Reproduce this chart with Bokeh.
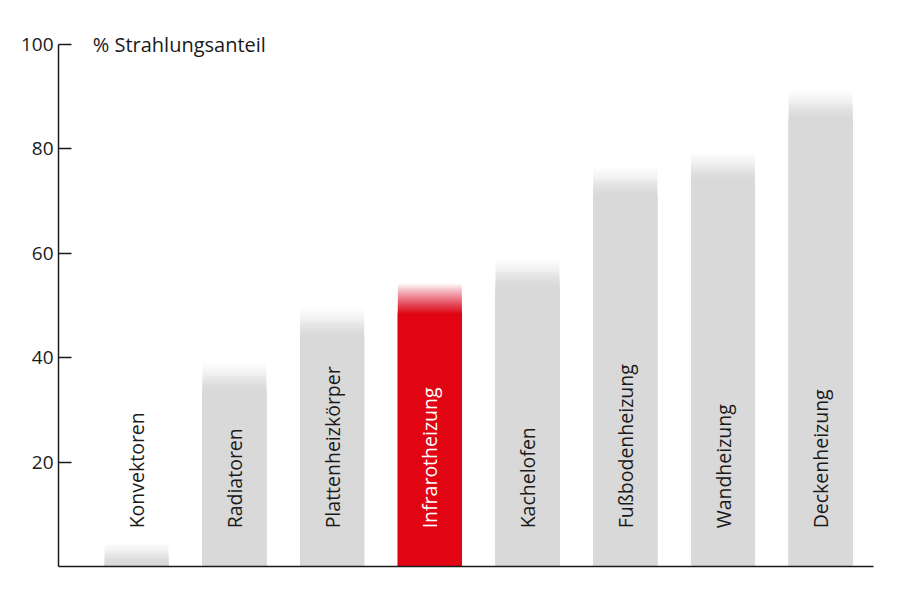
import numpy as np
from bokeh.plotting import figure
from bokeh.models import ColumnDataSource, FixedTicker, Range1d
from bokeh.core.properties import value
from bokeh.embed import file_html
from bokeh.resources import INLINE

categories = ["Konvektoren", "Radiatoren", "Plattenheizkörper", "Infrarotheizung",
              "Kachelofen", "Fußbodenheizung", "Wandheizung", "Deckenheizung"]
values = [4.6, 39.0, 49.4, 54.2, 58.9, 76.4, 79.2, 91.1]
highlight = "Infrarotheizung"
y_ticks = [20, 40, 60, 80, 100]
y_title = "% Strahlungsanteil"

GRAY = "#d9d9d9"
RED = "#e10514"
FONT = "Open Sans"
FADE = 6.0      # height of the fading top, data units
STEPS = 40
BAR_W = 0.655
LABEL_Y = 7.3

xs = list(range(len(categories)))
colors = [RED if c == highlight else GRAY for c in categories]
text_colors = ["#ffffff" if c == highlight else "#1a1a1a" for c in categories]

p = figure(width=884, height=584, output_backend="svg", toolbar_location=None,
           x_range=Range1d(-0.8, 7.54), y_range=Range1d(0, 106.03),
           min_border_left=58, min_border_right=11, min_border_top=12, min_border_bottom=18)
p.outline_line_color = None
p.grid.visible = False
p.background_fill_color = "white"

# each bar = stacked translucent layers from the baseline; the shortest layer is
# opaque, taller ones get alpha 1/(n) so the top fades out linearly
fx, ft, fc, fa = [], [], [], []
for x, v, c in zip(xs, values, colors):
    start = max(v - FADE, 0)
    h = (v - start) / STEPS
    for m in range(1, STEPS + 1):          # m = 1 is the tallest layer
        fx.append(x)
        ft.append(v - (m - 1) * h)
        fc.append(c)
        fa.append(1.0 / (STEPS - m + 1))
order = np.argsort(ft)[::-1]               # draw tallest first
fx = [fx[i] for i in order]
ft = [ft[i] for i in order]
fc = [fc[i] for i in order]
fa = [fa[i] for i in order]
p.vbar(x=fx, bottom=0, top=ft, width=BAR_W, fill_color=fc, fill_alpha=fa, line_color=None)

# labels inside bars
src = ColumnDataSource(dict(x=xs, y=[LABEL_Y] * len(xs), t=categories, c=text_colors))
p.text(x="x", y="y", text="t", source=src, angle=np.pi / 2, text_align="left",
       text_baseline="middle", text_color="c", text_font=value(FONT), text_font_size="19.5px")

# title at top of axis
p.text(x=[-0.8 + 0.35], y=[100], text=[y_title], text_align="left", text_baseline="middle",
       text_color="#1a1a1a", text_font=value(FONT), text_font_size="20px")

# axes
p.yaxis.ticker = FixedTicker(ticks=y_ticks)
p.yaxis.bounds = (0, 100)
p.yaxis.major_tick_in = 13
p.yaxis.major_tick_out = 0
p.yaxis.minor_tick_line_color = None
p.yaxis.axis_line_width = 1.5
p.yaxis.axis_line_color = "#1a1a1a"
p.yaxis.major_tick_line_color = "#1a1a1a"
p.yaxis.major_tick_line_width = 1.5
p.yaxis.major_label_text_font = FONT
p.yaxis.major_label_text_font_size = "19px"
p.yaxis.major_label_text_color = "#1a1a1a"
p.yaxis.major_label_standoff = 5

p.xaxis.ticker = FixedTicker(ticks=[])
p.xaxis.major_tick_line_color = None
p.xaxis.minor_tick_line_color = None
p.xaxis.axis_line_width = 1.5
p.xaxis.axis_line_color = "#1a1a1a"

open("out.html", "w").write(file_html(p, INLINE))
